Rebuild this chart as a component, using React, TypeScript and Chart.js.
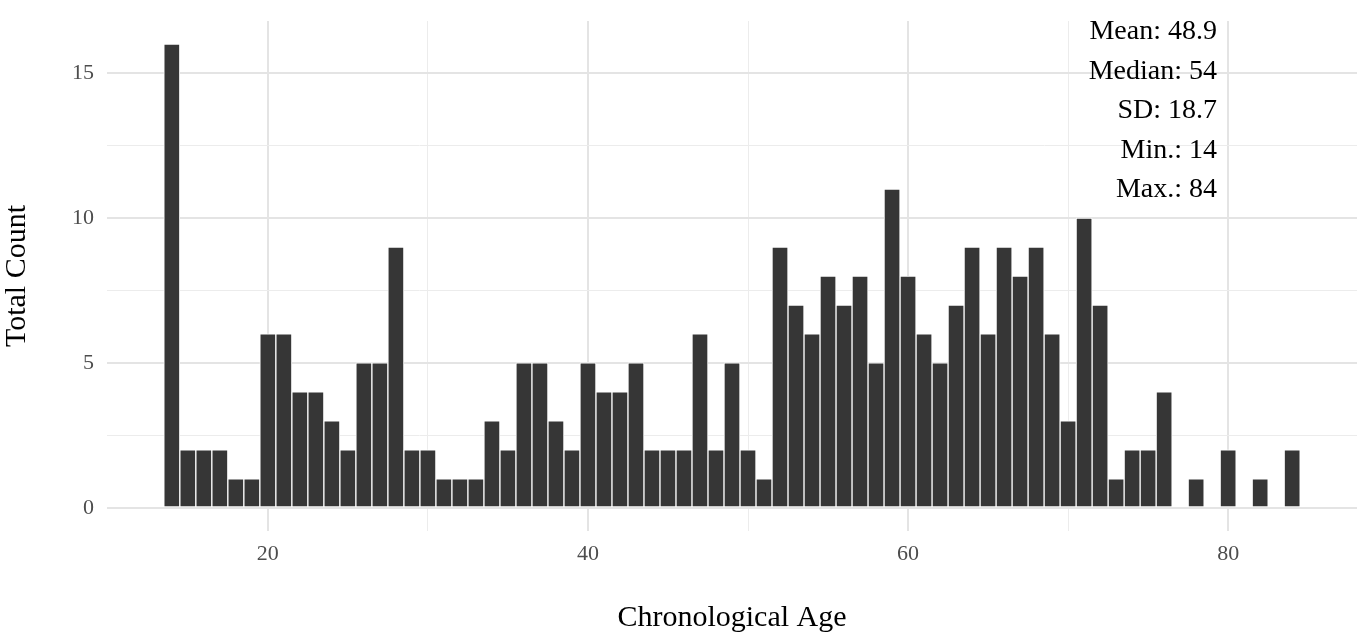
import { useEffect, useRef } from 'react'
import { Chart, BarController, BarElement, LinearScale } from 'chart.js'

Chart.register(BarController, BarElement, LinearScale)

// one bin per year of age
const ages = [
  14, 15, 16, 17, 18, 19, 20, 21, 22, 23,
  24, 25, 26, 27, 28, 29, 30, 31, 32, 33,
  34, 35, 36, 37, 38, 39, 40, 41, 42, 43,
  44, 45, 46, 47, 48, 49, 50, 51, 52, 53,
  54, 55, 56, 57, 58, 59, 60, 61, 62, 63,
  64, 65, 66, 67, 68, 69, 70, 71, 72, 73,
  74, 75, 76, 77, 78, 79, 80, 81, 82, 83, 84,
]
const counts = [
  16, 2, 2, 2, 1, 1, 6, 6, 4, 4,
  3, 2, 5, 5, 9, 2, 2, 1, 1, 1,
  3, 2, 5, 5, 3, 2, 5, 4, 4, 5,
  2, 2, 2, 6, 2, 5, 2, 1, 9, 7,
  6, 8, 7, 8, 5, 11, 8, 6, 5, 7,
  9, 6, 9, 8, 9, 6, 3, 10, 7, 1,
  2, 2, 4, 0, 1, 0, 2, 0, 1, 0, 2,
]

const xGrid = [20, 30, 40, 50, 60, 70, 80]
const xLabeled = [20, 40, 60, 80]
const yGrid = [0, 2.5, 5, 7.5, 10, 12.5, 15]
const yLabeled = [0, 5, 10, 15]

const statLines = ['Mean: 48.9', 'Median: 54', 'SD: 18.7', 'Min.: 14', 'Max.: 84']
const xTitle = 'Chronological Age'
const yTitle = 'Total Count'

const SERIF = '"Liberation Serif", "Times New Roman", serif'

export default function App() {
  const canvasRef = useRef<HTMLCanvasElement>(null)
  const chartRef = useRef<Chart | null>(null)

  useEffect(() => {
    if (!canvasRef.current) return
    if (chartRef.current) { chartRef.current.destroy(); chartRef.current = null }

    // axis titles + summary text, ggplot-style
    const labelsPlugin = {
      id: 'labels',
      afterDraw(chart: Chart) {
        const { ctx: c, chartArea: { left, right, top, bottom } } = chart
        c.save()
        c.fillStyle = '#000'

        c.font = `28px ${SERIF}`
        c.textAlign = 'right'
        c.textBaseline = 'alphabetic'
        statLines.forEach((s, i) => c.fillText(s, right - 140, top + 18 + i * 39.5))

        c.font = `30px ${SERIF}`
        c.textAlign = 'center'
        c.textBaseline = 'middle'
        c.fillText(xTitle, (left + right) / 2, bottom + 87)

        c.translate(17, (top + bottom) / 2)
        c.rotate(-Math.PI / 2)
        c.fillText(yTitle, 0, 0)
        c.restore()
      },
    }

    chartRef.current = new Chart(canvasRef.current, {
      type: 'bar',
      data: {
        datasets: [{
          data: ages.map((a, i) => ({ x: a, y: counts[i] })),
          backgroundColor: '#363636',
          borderColor: '#ffffff',
          borderWidth: 1,
          borderSkipped: false,
          barPercentage: 1,
          categoryPercentage: 1,
        }],
      },
      options: {
        responsive: true,
        maintainAspectRatio: false,
        animation: false,
        events: [],
        layout: { padding: { top: 21, right: 13, left: 0, bottom: 0 } },
        plugins: { legend: { display: false }, tooltip: { enabled: false } },
        scales: {
          x: {
            type: 'linear',
            min: 9.95, max: 88.05,
            offset: false,
            border: { display: false },
            afterBuildTicks: (s: any) => { s.ticks = xGrid.map(v => ({ value: v })) },
            afterFit: (s: any) => { s.height = 108; s.paddingLeft = 0; s.paddingRight = 0 },
            grid: {
              offset: false,
              drawTicks: false,
              color: (ctx: any) => xLabeled.includes(ctx.tick?.value) ? '#e4e4e4' : '#ececec',
              lineWidth: (ctx: any) => xLabeled.includes(ctx.tick?.value) ? 2 : 1,
            },
            ticks: {
              autoSkip: false, maxRotation: 0, padding: 10,
              color: '#4d4d4d',
              font: { family: SERIF, size: 22 },
              callback: (v: any) => xLabeled.includes(v) ? String(v) : '',
            },
          },
          y: {
            type: 'linear',
            min: -0.8, max: 16.8,
            border: { display: false },
            afterBuildTicks: (s: any) => { s.ticks = yGrid.map(v => ({ value: v })) },
            afterFit: (s: any) => { s.width = 107; s.paddingTop = 0; s.paddingBottom = 0 },
            grid: {
              drawTicks: false,
              color: (ctx: any) => yLabeled.includes(ctx.tick?.value) ? '#e4e4e4' : '#ececec',
              lineWidth: (ctx: any) => yLabeled.includes(ctx.tick?.value) ? 2 : 1,
            },
            ticks: {
              autoSkip: false, padding: 13,
              color: '#4d4d4d',
              font: { family: SERIF, size: 22 },
              callback: (v: any) => yLabeled.includes(v) ? String(v) : '',
            },
          },
        },
      },
      plugins: [labelsPlugin as any],
    })

    return () => { chartRef.current?.destroy(); chartRef.current = null }
  }, [])

  return (
    <div style={{ position: 'fixed', left: 0, top: 0, width: 1370, height: 639, background: '#fff' }}>
      <canvas ref={canvasRef} />
    </div>
  )
}
